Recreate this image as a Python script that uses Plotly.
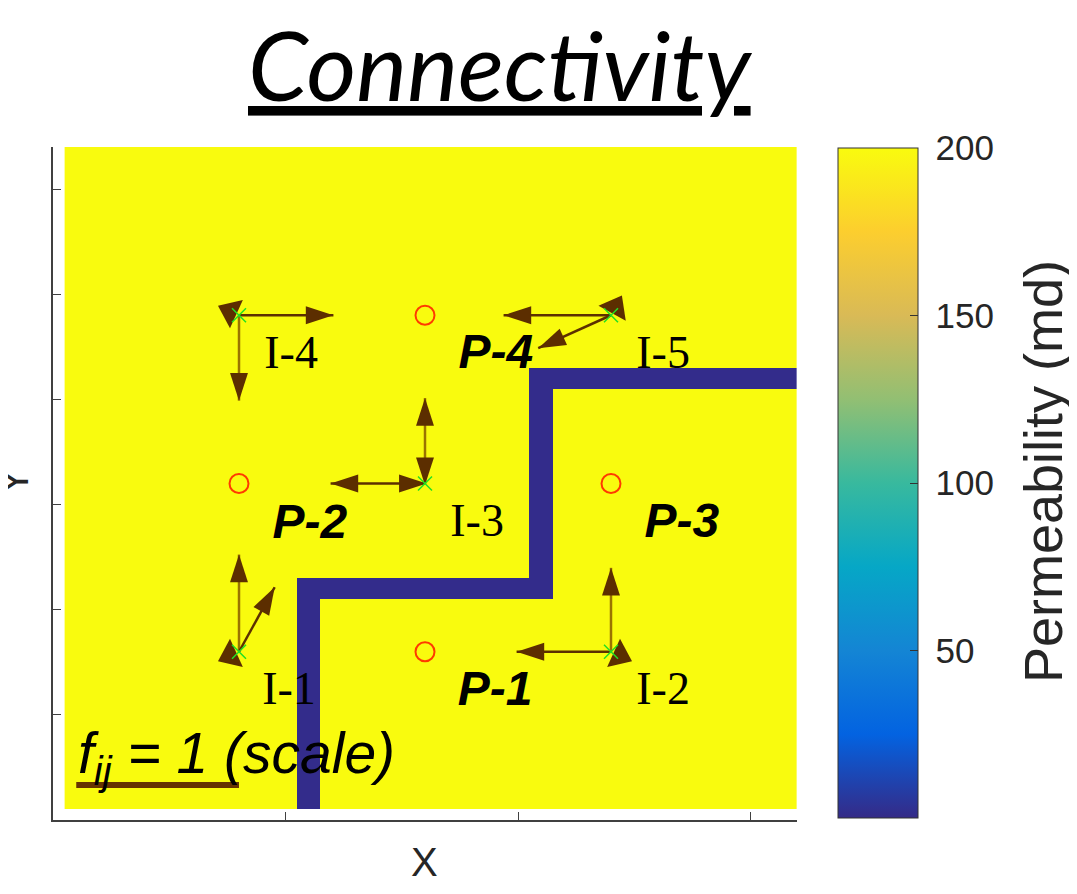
import numpy as np
import plotly.graph_objects as go

# reservoir grid (ft) and permeability (md)
cell = 50
grid_min, grid_max = 50, 3200
perm_field = 200
perm_barrier = 1

# low-permeability barrier, rectangles in ft
barrier_x0 = [1050, 1050, 2050, 2050]
barrier_x1 = [1150, 2150, 2150, 3200]
barrier_y0 = [50, 1050, 1050, 2050]
barrier_y1 = [1150, 1150, 2150, 2150]

# wells
inj_names = ["I-1", "I-2", "I-3", "I-4", "I-5"]
inj_x = [800, 2400, 1600, 800, 2400]
inj_y = [800, 800, 1600, 2400, 2400]
prod_names = ["P-1", "P-2", "P-3", "P-4"]
prod_x = [1600, 800, 2400, 1600]
prod_y = [800, 1600, 1600, 2400]

# label positions
inj_label_x = [1015, 2624, 1824, 1024, 2624]
inj_label_y = [604, 604, 1403, 2202, 2202]
prod_label_x = [1901, 1105, 2705, 1905]
prod_label_y = [604, 1398, 1403, 2206]

# connectivity f_ij, injector -> producer
conn_inj = ["I-1", "I-1", "I-1", "I-2", "I-2", "I-2", "I-3", "I-3", "I-3", "I-3",
            "I-4", "I-4", "I-4", "I-5", "I-5", "I-5"]
conn_prod = ["P-2", "P-4", "P-3", "P-1", "P-3", "P-2", "P-2", "P-4", "P-3", "P-1",
             "P-4", "P-2", "P-3", "P-4", "P-2", "P-1"]
conn_f = [0.66, 0.49, -0.12, 0.58, 0.57, -0.12, 0.58, 0.58, 0.01, 0.01,
          0.58, 0.58, -0.12, 0.66, 0.50, -0.12]
scale_len = 700  # ft drawn for f_ij = 1

parula = ["#352a87", "#0363e1", "#1485d4", "#06a7c6", "#38b99e",
          "#92bf73", "#d9ba56", "#fcce2e", "#f9fb0e"]

# page body has an 8px margin, so the layout is laid out 8px up/left
OFF = 8
L, T, W, H = 53 - OFF, 147 - OFF, 744, 673
XR, YR = 3200, 3200


def px_paper(px, py):
    return (px - 53) / W, (820 - py) / H


xc = np.arange(grid_min + cell / 2, grid_max, cell)
yc = np.arange(grid_min + cell / 2, grid_max, cell)
X, Y = np.meshgrid(xc, yc)
perm = np.full(X.shape, float(perm_field))
for x0, x1, y0, y1 in zip(barrier_x0, barrier_x1, barrier_y0, barrier_y1):
    perm[(X > x0) & (X < x1) & (Y > y0) & (Y < y1)] = perm_barrier

pad = '<span style="font-size:17px;color:rgba(0,0,0,0)">0</span>'

fig = go.Figure()
fig.add_trace(go.Heatmap(
    x=xc, y=yc, z=perm, zmin=0, zmax=200,
    colorscale=[[i / (len(parula) - 1), c] for i, c in enumerate(parula)],
    hoverinfo="skip",
    colorbar=dict(
        x=px_paper(838, 0)[0], xanchor="left", xpad=0,
        y=px_paper(0, 483)[1], yanchor="middle", ypad=0,
        thickness=80, thicknessmode="pixels", len=670, lenmode="pixels",
        outlinewidth=1, outlinecolor="#333333",
        tickvals=[50, 100, 150, 200], ticktext=[pad + str(v) for v in [50, 100, 150, 200]],
        ticks="inside", ticklen=8, tickcolor="#333333",
        tickfont=dict(family="Liberation Sans, Arial", size=35, color="#262626"),
    ),
))

# scale bar
fig.add_trace(go.Scatter(
    x=[100, 100 + scale_len], y=[166, 166], mode="lines",
    line=dict(color="#663300", width=6), hoverinfo="skip", showlegend=False))

# connectivity arrows: shafts, then heads rotated to the pixel direction
inj_pos = {n: (x, y) for n, x, y in zip(inj_names, inj_x, inj_y)}
prod_pos = {n: (x, y) for n, x, y in zip(prod_names, prod_x, prod_y)}
heads = {"arrow": ([], [], [], []), "triangle-up": ([], [], [], [])}
for i_name, p_name, f in zip(conn_inj, conn_prod, conn_f):
    x0, y0 = inj_pos[i_name]
    px_, py_ = prod_pos[p_name]
    d = np.array([px_ - x0, py_ - y0], float)
    d /= np.linalg.norm(d)
    tip = np.array([x0, y0]) + f * scale_len * d
    s = np.sign(f)
    ang = float(np.degrees(np.arctan2(s * d[0] * W / XR, s * d[1] * H / YR)))
    if abs(f) > 0.2:
        vertical = abs(d[0]) < 1e-9
        fig.add_trace(go.Scatter(
            x=[x0, tip[0]], y=[y0, tip[1]], mode="lines",
            line=dict(color="#9a7300" if vertical else "#5c3000", width=2.5),
            hoverinfo="skip", showlegend=False))
        hx, hy, ha, hs = heads["arrow"]
        hx.append(tip[0]); hy.append(tip[1]); ha.append(ang); hs.append(29)
    elif f > 0:
        hx, hy, ha, hs = heads["arrow"]
        hx.append(tip[0]); hy.append(tip[1]); ha.append(ang); hs.append(29)
    else:
        # small negative connectivity: stubby head only
        mid = (np.array([x0, y0]) + tip) / 2
        hx, hy, ha, hs = heads["triangle-up"]
        hx.append(mid[0]); hy.append(mid[1]); ha.append(ang); hs.append(27)

for sym, (hx, hy, ha, hs) in heads.items():
    fig.add_trace(go.Scatter(
        x=hx, y=hy, mode="markers",
        marker=dict(symbol=sym, angle=ha, angleref="up", size=hs,
                    opacity=1, color="#5c2e00", line=dict(width=0)),
        hoverinfo="skip", showlegend=False))

fig.add_trace(go.Scatter(
    x=prod_x, y=prod_y, mode="markers",
    marker=dict(symbol="circle-open", size=19, color="#ff3a00", line=dict(width=2)),
    hoverinfo="skip", showlegend=False))
fig.add_trace(go.Scatter(
    x=inj_x, y=inj_y, mode="markers",
    marker=dict(symbol="x-thin", size=14, color="#22e022",
                line=dict(width=1.5, color="#22e022")),
    hoverinfo="skip", showlegend=False))

fig.add_trace(go.Scatter(
    x=inj_label_x, y=inj_label_y, mode="text", text=inj_names,
    textfont=dict(family="Liberation Serif, Times New Roman", size=46, color="black"),
    hoverinfo="skip", showlegend=False))
fig.add_trace(go.Scatter(
    x=prod_label_x, y=prod_label_y, mode="text",
    text=[f"<b><i>{n}</i></b>" for n in prod_names],
    textfont=dict(family="Liberation Sans, Arial", size=48, color="black"),
    hoverinfo="skip", showlegend=False))

fig.add_annotation(
    x=100, y=300, xref="x", yref="y", xanchor="left", yanchor="middle",
    text="<i>f<sub>ij</sub> = 1 (scale)</i>", showarrow=False,
    font=dict(family="Liberation Sans, Arial", size=57, color="black"))

tx, ty = px_paper(500, 63)
fig.add_annotation(
    x=tx, y=ty, xref="paper", yref="paper",
    xanchor="center", yanchor="middle", showarrow=False,
    text="<i><u>Connectivity</u></i>",
    font=dict(family="Lato, Open Sans", size=96, color="black"))
xx, xy = px_paper(424, 862)
fig.add_annotation(
    x=xx, y=xy, xref="paper", yref="paper", xanchor="center", yanchor="middle",
    showarrow=False, text="X",
    font=dict(family="Liberation Sans, Arial", size=40, color="#262626"))
yx, yy = px_paper(14, 482)
fig.add_annotation(
    x=yx, y=yy, xref="paper", yref="paper", xanchor="center", yanchor="middle",
    showarrow=False, text="Y", textangle=-90,
    font=dict(family="Liberation Sans, Arial", size=40, color="#262626"))
cx, cy = px_paper(1043, 472)
fig.add_annotation(
    x=cx, y=cy, xref="paper", yref="paper", xanchor="center", yanchor="middle",
    showarrow=False, text="Permeability (md)", textangle=-90,
    font=dict(family="Liberation Sans, Arial", size=54, color="#262626"))

axis_common = dict(showgrid=False, zeroline=False, showticklabels=False,
                   ticks="inside", ticklen=8, tickcolor="#404040",
                   showline=True, linecolor="#404040", linewidth=1.5)
fig.update_xaxes(range=[0, XR], tickvals=[1000, 2000, 3000], **axis_common)
fig.update_yaxes(range=[0, YR], tickvals=[500, 1000, 1500, 2000, 2500, 3000],
                 **axis_common)
fig.update_layout(
    width=1077, height=894,
    margin=dict(l=L, r=1077 - L - W, t=T, b=894 - T - H),
    paper_bgcolor="white", plot_bgcolor="white",
    showlegend=False,
)
fig.write_html("out.html")
